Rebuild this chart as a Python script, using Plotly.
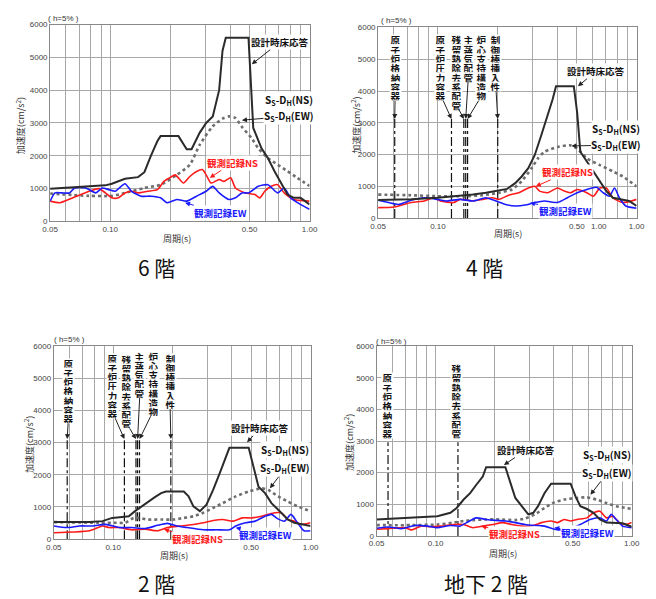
import math
import plotly.graph_objects as go

OFF = 8                      # default page margin around the plot div
W, H = 656 - OFF, 599 - OFF
JP = "Noto Sans CJK JP"
LAT = "Liberation Sans"

# ---------------- data: 6階 ----------------
f6_design_T = [0.050,0.0946,0.102,0.1186,0.138,0.1485,0.160,0.1726,0.179,0.220,0.242,0.256,0.281,0.303,0.327,0.352,0.366,0.380,0.494,0.522,0.574,0.618,0.667,0.719,0.775,0.835,0.900,0.95,1.0]
f6_design_A = [1000,1100,1150,1300,1350,1500,2000,2450,2600,2600,2200,2200,2700,3000,3200,4000,5200,5600,5600,2850,2230,1930,1530,1180,820,720,720,620,520]
f6_ss_T = [0.050,0.0785,0.102,0.1186,0.1485,0.179,0.216,0.251,0.281,0.327,0.366,0.394,0.425,0.458,0.513,0.553,0.618,0.692,0.775,0.867,1.0]
f6_ss_A = [850,780,780,870,1020,1120,1420,1730,2330,2900,3130,3200,3150,2880,2530,2230,1930,1730,1530,1330,1080]
f6_ns_T = [0.050,0.056,0.065,0.0785,0.0878,0.0946,0.102,0.110,0.1186,0.128,0.138,0.154,0.1726,0.186,0.204,0.212,0.233,0.251,0.271,0.290,0.303,0.321,0.352,0.372,0.402,0.425,0.476,0.532,0.563,0.596,0.642,0.692,0.746,0.835,1.0]
f6_ns_A = [620,570,720,920,1000,870,720,720,870,920,870,920,970,1220,1370,1420,1170,1370,1520,1580,1420,1170,1280,1220,1330,1020,870,820,720,920,1070,1120,870,670,620]
f6_ew_T = [0.050,0.0529,0.057,0.0626,0.0663,0.0756,0.0846,0.0912,0.0983,0.106,0.1186,0.128,0.143,0.160,0.179,0.193,0.216,0.242,0.271,0.303,0.327,0.352,0.394,0.425,0.458,0.494,0.553,0.618,0.692,0.746,0.804,0.900,1.0]
f6_ew_A = [620,870,870,870,1020,1020,870,1020,970,920,1150,920,770,770,720,570,670,620,770,920,1070,870,670,720,870,870,1070,1120,870,1020,720,520,370]
f6_eq_T = []
f6_eq_names = []

# ---------------- data: 4階 ----------------
f4_design_T = [0.050,0.0733,0.0994,0.129,0.150,0.1745,0.203,0.223,0.245,0.264,0.285,0.307,0.331,0.357,0.378,0.393,0.483,0.502,0.521,0.562,0.606,0.653,0.704,0.760,0.851,0.917,1.0]
f4_design_A = [570,590,640,690,740,800,870,920,1100,1310,1570,1980,2600,3220,3740,4150,4150,3330,2090,1780,1470,1160,850,640,590,540,380]
f4_ss_T = [0.050,0.0733,0.0994,0.139,0.168,0.203,0.236,0.264,0.296,0.319,0.344,0.400,0.465,0.502,0.562,0.653,0.760,0.851,1.0]
f4_ss_A = [740,720,690,690,720,800,900,1160,1570,1880,2090,2240,2290,2190,1880,1670,1470,1310,1000]
f4_ns_T = [0.050,0.0603,0.0733,0.0854,0.0956,0.103,0.120,0.129,0.150,0.168,0.188,0.203,0.227,0.255,0.285,0.307,0.325,0.357,0.400,0.432,0.465,0.502,0.562,0.606,0.653,0.704,0.760,0.851,1.0]
f4_ns_A = [330,350,490,540,640,540,490,590,540,590,640,590,720,800,950,1000,850,800,950,850,800,900,800,690,950,950,640,490,590]
f4_ew_T = [0.050,0.0564,0.0632,0.0733,0.0854,0.0994,0.111,0.129,0.150,0.1745,0.196,0.219,0.245,0.275,0.307,0.344,0.400,0.448,0.502,0.562,0.629,0.678,0.731,0.774,0.819,0.883,1.0]
f4_ew_A = [560,490,430,560,640,590,540,590,540,640,540,430,380,410,490,540,490,640,800,900,970,800,690,950,640,380,310]
f4_eq_T = [0.0606, 0.117, 0.135, 0.138, 0.141, 0.200]
f4_eq_names = ["原子炉格納容器", "原子炉圧力容器", "残留熱除去系配管", "主蒸気配管", "炉心支持構造物", "制御棒挿入性"]

# ---------------- data: 2階 ----------------
f2_design_T = [0.050,0.0759,0.0883,0.0989,0.111,0.120,0.129,0.139,0.150,0.162,0.175,0.185,0.228,0.241,0.255,0.275,0.297,0.321,0.346,0.366,0.388,0.486,0.515,0.545,0.588,0.634,0.684,0.767,0.827,0.927,1.0]
f2_design_A = [530,530,560,660,690,710,870,1020,1170,1300,1430,1480,1480,1330,1020,870,1070,1530,2040,2450,2840,2840,2240,1630,1430,1120,920,610,510,460,410]
f2_ss_T = [0.050,0.085,0.103,0.115,0.127,0.134,0.150,0.175,0.203,0.228,0.255,0.286,0.321,0.359,0.418,0.486,0.566,0.611,0.684,0.767,0.859,1.0]
f2_ss_A = [530,510,510,510,660,660,610,610,610,660,710,820,970,1120,1330,1480,1580,1530,1330,1170,1020,870]
f2_ns_T = [0.050,0.0628,0.0759,0.0883,0.0953,0.107,0.124,0.145,0.168,0.188,0.219,0.237,0.286,0.321,0.359,0.403,0.451,0.505,0.566,0.611,0.659,0.711,0.767,0.827,0.892,1.0]
f2_ns_A = [200,220,260,410,360,360,290,310,260,360,410,430,510,580,610,560,660,660,710,770,820,820,610,560,460,510]
f2_ew_T = [0.050,0.0582,0.0677,0.0788,0.0917,0.107,0.124,0.145,0.168,0.188,0.211,0.237,0.286,0.333,0.388,0.418,0.468,0.525,0.588,0.634,0.684,0.738,0.796,0.859,0.927,1.0]
f2_ew_A = [410,360,410,410,460,360,360,330,430,490,410,360,290,290,290,410,510,560,710,770,630,560,770,510,260,260]
f2_eq_T = [0.0585, 0.114, 0.1305, 0.133, 0.136, 0.196]
f2_eq_names = ["原子炉格納容器", "原子炉圧力容器", "残留熱除去系配管", "主蒸気配管", "炉心支持構造物", "制御棒挿入性"]

# ---------------- data: 地下2階 ----------------
fb2_design_T = [0.050,0.0752,0.091,0.102,0.119,0.128,0.139,0.150,0.161,0.174,0.181,0.227,0.241,0.255,0.275,0.297,0.315,0.333,0.359,0.388,0.488,0.517,0.547,0.591,0.638,0.688,0.743,0.802,0.899,1.0]
fb2_design_A = [520,570,600,625,730,885,1150,1350,1610,1875,2170,2170,1670,1200,940,680,730,940,1350,1650,1650,1250,940,850,730,520,420,420,400,290]
fb2_ss_T = [0.050,0.0752,0.102,0.124,0.139,0.155,0.181,0.211,0.255,0.286,0.321,0.359,0.403,0.452,0.526,0.591,0.662,0.743,0.833,1.0]
fb2_ss_A = [340,340,360,420,470,500,520,520,500,550,680,885,1060,1150,1200,1220,1150,1040,940,850]
fb2_ns_T = [0.050,0.0576,0.0697,0.0752,0.0843,0.0946,0.106,0.124,0.139,0.155,0.174,0.195,0.219,0.245,0.275,0.315,0.346,0.388,0.419,0.452,0.488,0.526,0.591,0.638,0.688,0.743,0.802,0.865,0.933,1.0]
fb2_ns_A = [210,230,260,190,310,290,310,360,360,260,310,360,420,360,310,330,420,470,420,520,470,520,570,730,780,570,620,420,360,420]
fb2_ew_T = [0.050,0.0576,0.0671,0.0781,0.091,0.102,0.119,0.133,0.144,0.161,0.181,0.203,0.227,0.255,0.286,0.321,0.359,0.403,0.435,0.488,0.547,0.613,0.688,0.743,0.786,0.833,0.899,1.0]
fb2_ew_A = [240,280,230,330,310,260,330,310,420,570,520,490,470,420,360,330,310,210,190,230,360,520,570,470,680,520,310,260]
fb2_eq_T = [0.0572, 0.130]
fb2_eq_names = ["原子炉格納容器", "残留熱除去系配管"]

floor_titles = ["6 階", "4 階", "2 階", "地下 2 階"]
y_ticks = [0, 1000, 2000, 3000, 4000, 5000, 6000]
x_ticks = [0.05, 0.06, 0.07, 0.08, 0.09, 0.1, 0.2, 0.3, 0.4, 0.5, 0.6, 0.7, 0.8, 0.9, 1.0]
x_ticktext = ["0.05", "", "", "", "", "0.10", "", "", "", "0.50", "", "", "", "", "1.00"]

# ---------------- layout config (page pixels) ----------------
panels = [
    dict(data=(f6_design_T, f6_design_A, f6_ss_T, f6_ss_A, f6_ns_T, f6_ns_A, f6_ew_T, f6_ew_A),
         eq=(f6_eq_T, f6_eq_names), eq_top=3100,
         box=(43, 309, 20.7, 220.7), title_xy=(152.5, 267),
         ylab=(13, 123), xlab=(173, 238), h5=(57, 15)),
    dict(data=(f4_design_T, f4_design_A, f4_ss_T, f4_ss_A, f4_ns_T, f4_ns_A, f4_ew_T, f4_ew_A),
         eq=(f4_eq_T, f4_eq_names), eq_top=3120,
         box=(379.3, 644.3, 23.7, 217.3), title_xy=(488.7, 267),
         ylab=(357, 123), xlab=(512, 233), h5=(398, 17)),
    dict(data=(f2_design_T, f2_design_A, f2_ss_T, f2_ss_A, f2_ns_T, f2_ns_A, f2_ew_T, f2_ew_A),
         eq=(f2_eq_T, f2_eq_names), eq_top=3110,
         box=(46.7, 310, 347.3, 543.3), title_xy=(152.5, 588),
         ylab=(22, 447), xlab=(170, 560), h5=(63, 341)),
    dict(data=(fb2_design_T, fb2_design_A, fb2_ss_T, fb2_ss_A, fb2_ns_T, fb2_ns_A, fb2_ew_T, fb2_ew_A),
         eq=(fb2_eq_T, fb2_eq_names), eq_top=2960,
         box=(377.7, 639.3, 347.3, 540), title_xy=(489.5, 588),
         ylab=(350, 445), xlab=(507, 558), h5=(393, 343)),
]

series_labels = [
    dict(design=(0.513, 4790, 28, -22), ss=(0.458, 3085, 47, -20, -4), ns=(0.316, 1330, 23, -15), ew=(0.2375, 570, 35, 10)),
    dict(design=(0.507, 4150, 18, -15), ss=(0.47, 2270, 45, -17, -1), ns=(0.311, 1000, 32, -14), ew=(0.291, 485, 35, 8)),
    dict(design=(0.477, 3010, 13, -14), ss=(0.623, 1580, 15, -38, -20), ns=(0.181, 306, 33, 10), ew=(0.418, 357, 30, 7)),
    dict(design=(0.223, 2240, 22, -15), ss=(0.616, 1300, 17, -40, -22), ns=(0.171, 310, 33, 8), ew=(0.403, 260, 33, 5)),
]
eq_layout = {
    2: dict(dx=[0.4, -10.5, -7.2, 2.6, 14, -1.9], top=[-83.7] * 6, pitch=9.3, arrow=True),
    3: dict(dx=[1.2, -11.4, -9.3, 2.3, 13.6, -0.8], top=[-80, -85, -84, -87, -87, -85], pitch=9.1, arrow=True),
    4: dict(dx=[-1, -1.8], top=[-4 - 7 * 9.3, -4 - 8 * 9.3], pitch=9.3, arrow=False),
}

fig = go.Figure()
annotations = []

def px2paper_x(px):
    return (px - OFF) / W

def px2paper_y(py):
    return 1 - (py - OFF) / H

def paper_text(px, py, text, font, **kw):
    return dict(xref="paper", yref="paper", x=px2paper_x(px), y=px2paper_y(py),
                xanchor="center", yanchor="middle", text=text, showarrow=False,
                font=font, **kw)

for i, p in enumerate(panels):
    n = i + 1
    xa = "x" if n == 1 else f"x{n}"
    ya = "y" if n == 1 else f"y{n}"
    dT, dA, sT, sA, nT, nA, eT, eA = p["data"]
    eqT, eqN = p["eq"]
    if eqT:
        xs, ys = [], []
        for t in eqT:
            xs += [t, t, None]
            ys += [0, p["eq_top"], None]
        fig.add_trace(go.Scatter(x=xs, y=ys, mode="lines", xaxis=xa, yaxis=ya,
                                 line=dict(color="#111", width=1.2, dash="dashdot"),
                                 hoverinfo="skip"))
    fig.add_trace(go.Scatter(x=sT, y=sA, mode="lines", xaxis=xa, yaxis=ya,
                             line=dict(color="#6e6e6e", width=2.6, dash="dot", shape="spline", smoothing=0.6)))
    fig.add_trace(go.Scatter(x=nT, y=nA, mode="lines", xaxis=xa, yaxis=ya,
                             line=dict(color="#ff1a1a", width=1.6, shape="spline", smoothing=0.6)))
    fig.add_trace(go.Scatter(x=eT, y=eA, mode="lines", xaxis=xa, yaxis=ya,
                             line=dict(color="#1a1aff", width=1.6, shape="spline", smoothing=0.6)))
    fig.add_trace(go.Scatter(x=dT, y=dA, mode="lines", xaxis=xa, yaxis=ya,
                             line=dict(color="#2b2b2b", width=2)))

    x0, x1, y0, y1 = p["box"]
    axis_common = dict(showline=True, mirror=True, linecolor="#888", linewidth=1,
                       gridcolor="#a8a8a8", gridwidth=1, zeroline=False, ticks="",
                       tickfont=dict(family=LAT, size=8, color="#444"))
    fig.layout[f"xaxis{'' if n == 1 else n}"] = dict(
        axis_common, type="log", range=[math.log10(0.05), 0],
        domain=[px2paper_x(x0), px2paper_x(x1)], anchor=ya,
        tickvals=x_ticks, ticktext=x_ticktext)
    fig.layout[f"yaxis{'' if n == 1 else n}"] = dict(
        axis_common, range=[0, 6000], domain=[px2paper_y(y1), px2paper_y(y0)],
        anchor=xa, tickvals=y_ticks, ticktext=[str(v) for v in y_ticks])

    tx, ty = p["title_xy"]
    annotations.append(paper_text(tx, ty, floor_titles[i], dict(family=JP, size=21, color="#111")))
    lx, ly = p["ylab"]
    annotations.append(paper_text(lx, ly, "加速度(cm/s<sup>2</sup>)",
                                  dict(family=JP, size=9, color="#333"), textangle=-90))
    lx, ly = p["xlab"]
    annotations.append(paper_text(lx, ly, "周期(s)", dict(family=JP, size=9, color="#333")))
    hx, hy = p["h5"]
    annotations.append(paper_text(hx, hy, "( h=5% )", dict(family=LAT, size=8, color="#333")))

    sl = series_labels[i]
    bold = dict(family=JP, size=9.5, weight="bold")
    T, A, dx, dy = sl["design"]
    annotations.append(dict(xref=xa, yref=ya, x=math.log10(T), y=A, ax=dx, ay=dy,
                            text="設計時床応答", showarrow=True, arrowhead=2, arrowsize=1,
                            arrowwidth=1, arrowcolor="#222", bgcolor="white", borderpad=0,
                            font=dict(bold, color="#111")))
    T, A, dx, dyn, dye = sl["ss"]
    annotations.append(dict(xref=xa, yref=ya, x=math.log10(T), y=A, ax=dx, ay=dye,
                            text="S<sub>S</sub>-D<sub>H</sub>(EW)", showarrow=True, arrowhead=2,
                            arrowsize=1, arrowwidth=1, arrowcolor="#222", bgcolor="white",
                            borderpad=0, font=dict(bold, size=10, color="#111")))
    annotations.append(dict(xref=xa, yref=ya, x=math.log10(T), y=A, ax=dx, ay=dyn,
                            text="S<sub>S</sub>-D<sub>H</sub>(NS)", showarrow=True,
                            arrowcolor="rgba(0,0,0,0)", bgcolor="white", borderpad=0,
                            font=dict(bold, size=10, color="#111")))
    T, A, dx, dy = sl["ns"]
    annotations.append(dict(xref=xa, yref=ya, x=math.log10(T), y=A, ax=dx, ay=dy,
                            text="観測記録NS", showarrow=True, arrowhead=2, arrowsize=1,
                            arrowwidth=1, arrowcolor="#ff1a1a", bgcolor="white", borderpad=0,
                            font=dict(bold, color="#ff1a1a")))
    T, A, dx, dy = sl["ew"]
    annotations.append(dict(xref=xa, yref=ya, x=math.log10(T), y=A, ax=dx, ay=dy,
                            text="観測記録EW", showarrow=True, arrowhead=2, arrowsize=1,
                            arrowwidth=1, arrowcolor="#1a1aff", bgcolor="white", borderpad=0,
                            font=dict(bold, color="#1a1aff")))

    if n in eq_layout:
        cfg = eq_layout[n]
        pitch = cfg["pitch"]
        for k, (t, name) in enumerate(zip(eqT, eqN)):
            m = len(name)
            for j, ch in enumerate(name):
                cy = cfg["top"][k] + pitch * (j + 0.5)
                visible = cfg["arrow"] and j == m - 1
                annotations.append(dict(
                    xref=xa, yref=ya, x=math.log10(t), y=p["eq_top"],
                    ax=cfg["dx"][k], ay=cy, text=ch, showarrow=True,
                    arrowhead=2, arrowsize=1, arrowwidth=1,
                    arrowcolor="#222" if visible else "rgba(0,0,0,0)",
                    bgcolor="white", borderpad=0, height=pitch, width=11,
                    font=dict(family=JP, size=9.5, color="#111", weight="bold")))

annotations.append(dict(xref="x2", yref="y2", x=math.log10(0.648), y=0, xanchor="center",
                        yanchor="top", yshift=-2, text="1.00", showarrow=False,
                        font=dict(family=LAT, size=8, color="#444")))

fig.update_layout(width=W, height=H, margin=dict(l=0, r=0, t=0, b=0),
                  paper_bgcolor="white", plot_bgcolor="white", showlegend=False,
                  annotations=annotations)

fig.write_html("out.html")
